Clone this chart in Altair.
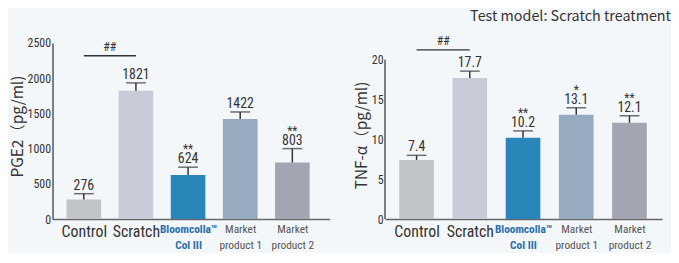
import json
import altair as alt
import pandas as pd

categories = ["Control", "Scratch", "Bloomcolla™|Col III", "Market|product 1", "Market|product 2"]
colors = ["#c2c5c8", "#c8cad8", "#2a86b8", "#98aac0", "#a4a5b2"]

pge2_values = [276, 1821, 624, 1422, 803]
pge2_err = [84, 112, 112, 98, 197]
pge2_stars = ["", "", "**", "", "**"]
pge2_labels = ["276", "1821", "624", "1422", "803"]

tnf_values = [7.4, 17.7, 10.2, 13.1, 12.1]
tnf_err = [0.6, 0.87, 0.87, 0.87, 0.87]
tnf_stars = ["", "", "**", "*", "**"]
tnf_labels = ["7.4", "17.7", "10.2", "13.1", "12.1"]

pge2_sig = {"from": 0, "to": 1, "y": 2317, "text": "##"}
tnf_sig = {"from": 0, "to": 1, "y": 21.24, "text": "##"}

chart_title = "Test model: Scratch treatment"

NARROW = "Roboto Condensed"
SANS = "Noto Sans CJK SC"
DARK = "#333333"

label_expr = "split(" + json.dumps(categories) + "[datum.value], '|')"


def panel(values, errs, labels, stars, sig, ytitle, ydomain, yticks, xdomain, title_y,
          axis_top=None, title=None):
    df = pd.DataFrame({
        "idx": list(range(len(categories))),
        "cat": categories,
        "value": values,
        "top": [v + e for v, e in zip(values, errs)],
        "label": labels,
        "stars": stars,
    })
    xs = alt.Scale(domain=xdomain, nice=False, zero=False)
    ys = alt.Scale(domain=ydomain, nice=False)
    x_axis = alt.Axis(values=list(range(len(categories))), labelExpr=label_expr,
                      title=None, ticks=False, grid=False, domainColor="#666666",
                      domainWidth=1.5, labelPadding=5, labelLineHeight=16,
                      labelFont=NARROW, labelOverlap=False, labelFlush=False,
                      labelFontSize={"condition": {"test": "datum.value < 2", "value": 16}, "value": 11.5},
                      labelFontWeight={"condition": {"test": "datum.value == 2", "value": "bold"}, "value": "normal"},
                      labelColor={"condition": [{"test": "datum.value == 2", "value": "#2a6faa"},
                                                {"test": "datum.value < 2", "value": DARK}],
                                  "value": "#555555"},
                      labelBaseline="top")
    y_axis = alt.Axis(values=yticks, title=ytitle, ticks=False, grid=False, format="d",
                      labelOverlap=False, labelFlush=False, tickCount=len(yticks),
                      domain=axis_top is None, domainColor="#555555", domainWidth=1.5,
                      labelFont=NARROW, labelFontSize=12, labelColor=DARK, labelPadding=2,
                      titleFont=SANS, titleFontSize=15.5, titleFontWeight="normal",
                      titleColor=DARK, titlePadding=2, titleY=title_y)

    def X(f):
        return alt.X(f, scale=xs, axis=x_axis)

    def Y(f):
        return alt.Y(f, scale=ys, axis=y_axis)

    base = alt.Chart(df)
    bars = base.mark_bar(size=35).encode(
        x=X("idx:Q"), y=Y("value:Q"),
        color=alt.Color("cat:N", scale=alt.Scale(domain=categories, range=colors), legend=None))
    err = base.mark_rule(color=DARK, strokeWidth=1.5).encode(
        x=X("idx:Q"), y=Y("value:Q"), y2="top:Q")
    cap = base.mark_tick(orient="horizontal", size=20, thickness=1.5, color=DARK).encode(
        x=X("idx:Q"), y=Y("top:Q"))
    txt = base.mark_text(font=NARROW, fontSize=14, color=DARK, baseline="alphabetic", dy=-4).encode(
        x=X("idx:Q"), y=Y("top:Q"), text="label:N")
    st = base.mark_text(font=NARROW, fontSize=12, color=DARK, baseline="alphabetic", dy=-14).encode(
        x=X("idx:Q"), y=Y("top:Q"), text="stars:N")

    sdf = pd.DataFrame({"x1": [sig["from"]], "x2": [sig["to"]], "y": [sig["y"]],
                        "xm": [(sig["from"] + sig["to"]) / 2], "t": [sig["text"]]})
    sbase = alt.Chart(sdf)
    sline = sbase.mark_rule(color=DARK, strokeWidth=1.5).encode(x=X("x1:Q"), x2="x2:Q", y=Y("y:Q"))
    stext = sbase.mark_text(font=NARROW, fontSize=12, color=DARK, baseline="alphabetic", dy=-5).encode(
        x=X("xm:Q"), y=Y("y:Q"), text="t:N")

    layers = [bars, err, cap, txt, st, sline, stext]
    if axis_top is not None:
        adf = pd.DataFrame({"y0": [0], "y1": [axis_top]})
        aline = alt.Chart(adf).mark_rule(color="#555555", strokeWidth=1.5).encode(
            x=alt.value(0), y=Y("y0:Q"), y2="y1:Q")
        layers.append(aline)
    if title is not None:
        tdf = pd.DataFrame({"t": [title]})
        ttl = alt.Chart(tdf).mark_text(font=SANS, fontSize=14.5, color=DARK, align="right",
                                       baseline="middle").encode(
            x=alt.value(289), y=alt.value(-26), text="t:N")
        layers.append(ttl)
    return alt.layer(*layers).properties(width=280, height=178)


left = panel(pge2_values, pge2_err, pge2_labels, pge2_stars, pge2_sig,
             "PGE2（pg/ml)", [0, 2500], [0, 500, 1000, 1500, 2000, 2500], [-0.505, 4.62], 84)
right = panel(tnf_values, tnf_err, tnf_labels, tnf_stars, tnf_sig,
              "TNF-α（pg/ml)", [0, 20 * 178 / 161], [0, 5, 10, 15, 20], [-0.5, 4.52], 93,
              axis_top=20, title=chart_title)

chart = alt.hconcat(left, right, spacing=25).properties(
    background="#f3f7fa",
    padding={"left": 2, "top": 0, "right": 0, "bottom": 0},
).configure_view(stroke=None).configure_axis(labelOverlap=False)

chart.save("out.html", embed_options={"renderer": "svg", "actions": False})
